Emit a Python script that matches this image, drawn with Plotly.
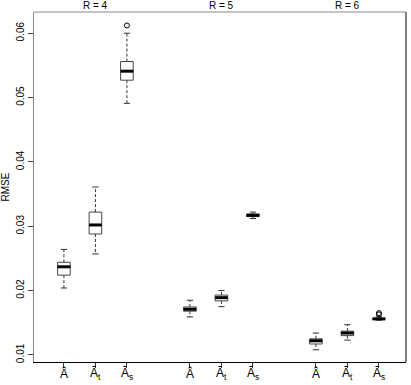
import plotly.graph_objects as go

# %% data
group_titles = ["R = 4", "R = 5", "R = 6"]
estimators = ["Â", "Ā<sub>t</sub>", "Ā<sub>s</sub>"]

positions = [1, 2, 3, 5, 6, 7, 9, 10, 11]
lower_whisker = [0.0204, 0.0257, 0.0491, 0.0159, 0.0175, 0.0312, 0.0108, 0.0123, 0.0154]
q1 = [0.0224, 0.0288, 0.0527, 0.0168, 0.0184, 0.0315, 0.0117, 0.0130, 0.0155]
median = [0.0237, 0.0302, 0.0541, 0.0171, 0.0189, 0.0317, 0.0122, 0.0134, 0.0156]
q3 = [0.0244, 0.0322, 0.0556, 0.01745, 0.0193, 0.0319, 0.0125, 0.0137, 0.0157]
upper_whisker = [0.0264, 0.0361, 0.0600, 0.0185, 0.0200, 0.0322, 0.0134, 0.0147, 0.0159]

outlier_pos = [3, 11, 11]
outlier_val = [0.0612, 0.0163, 0.0165]

BOX_HALF = 0.2
CAP_HALF = 0.1

# %% build line paths
box_x, box_y = [], []
med_x, med_y = [], []
wh_x, wh_y = [], []
cap_x, cap_y = [], []
for p, lo, a, m, b, hi in zip(positions, lower_whisker, q1, median, q3, upper_whisker):
    box_x += [p - BOX_HALF, p + BOX_HALF, p + BOX_HALF, p - BOX_HALF, p - BOX_HALF, None]
    box_y += [a, a, b, b, a, None]
    med_x += [p - BOX_HALF, p + BOX_HALF, None]
    med_y += [m, m, None]
    wh_x += [p, p, None, p, p, None]
    wh_y += [b, hi, None, a, lo, None]
    cap_x += [p - CAP_HALF, p + CAP_HALF, None, p - CAP_HALF, p + CAP_HALF, None]
    cap_y += [hi, hi, None, lo, lo, None]

fig = go.Figure()
fig.add_trace(go.Scatter(x=wh_x, y=wh_y, mode="lines",
                         line=dict(color="#333", width=1, dash="3px,2px"), hoverinfo="skip"))
fig.add_trace(go.Scatter(x=cap_x, y=cap_y, mode="lines",
                         line=dict(color="#333", width=1), hoverinfo="skip"))
fig.add_trace(go.Scatter(x=box_x, y=box_y, mode="lines",
                         line=dict(color="#444", width=1), hoverinfo="skip"))
fig.add_trace(go.Scatter(x=med_x, y=med_y, mode="lines",
                         line=dict(color="black", width=3), hoverinfo="skip"))
fig.add_trace(go.Scatter(x=outlier_pos, y=outlier_val, mode="markers",
                         marker=dict(symbol="circle-open", size=5, color="black",
                                     line=dict(width=1))))

for i, title in enumerate(group_titles):
    fig.add_annotation(x=positions[3 * i + 1], y=1, xref="x", yref="paper",
                       text=title, showarrow=False, yanchor="bottom", yshift=-1,
                       font=dict(size=10, color="black"))

# estimator labels under each box
for p, lab in zip(positions, estimators * 3):
    fig.add_annotation(x=p, y=0, xref="x", yref="paper", text=lab,
                       showarrow=False, yanchor="top", yshift=-3, borderpad=0,
                       font=dict(size=12, color="black"))

# right (black) and top (gray) frame edges
fig.add_shape(type="line", xref="paper", yref="paper", x0=1, x1=1, y0=0, y1=1,
              line=dict(color="black", width=1))
fig.add_shape(type="line", xref="paper", yref="paper", x0=0, x1=1, y0=1, y1=1,
              line=dict(color="#888", width=1))

fig.update_layout(
    width=411, height=385,
    margin=dict(l=34, r=5, t=12, b=23),
    paper_bgcolor="white", plot_bgcolor="white",
    showlegend=False,
    font=dict(family="Liberation Sans, Arial, sans-serif", size=10, color="black"),
    xaxis=dict(range=[0.05, 11.86], tickmode="array", tickvals=positions,
               showticklabels=False, showgrid=False, zeroline=False,
               showline=True, linecolor="black", linewidth=1,
               ticks="outside", ticklen=5, tickcolor="#333"),
    yaxis=dict(range=[0.0089, 0.0633], tickvals=[0.01, 0.02, 0.03, 0.04, 0.05, 0.06],
               ticktext=["0.01", "0.02", "0.03", "0.04", "0.05", "0.06"],
               tickangle=-90, showgrid=False, zeroline=False,
               showline=True, linecolor="#888", linewidth=1,
               ticks="outside", ticklen=5, tickcolor="#444",
               tickfont=dict(size=10),
               title=dict(text="RMSE", standoff=4, font=dict(size=10))),
)

# drop the browser's default page margin so the figure sits at the window corner
fig.write_html("out.html", config={"displayModeBar": False},
               post_script="document.body.style.margin='0';")
